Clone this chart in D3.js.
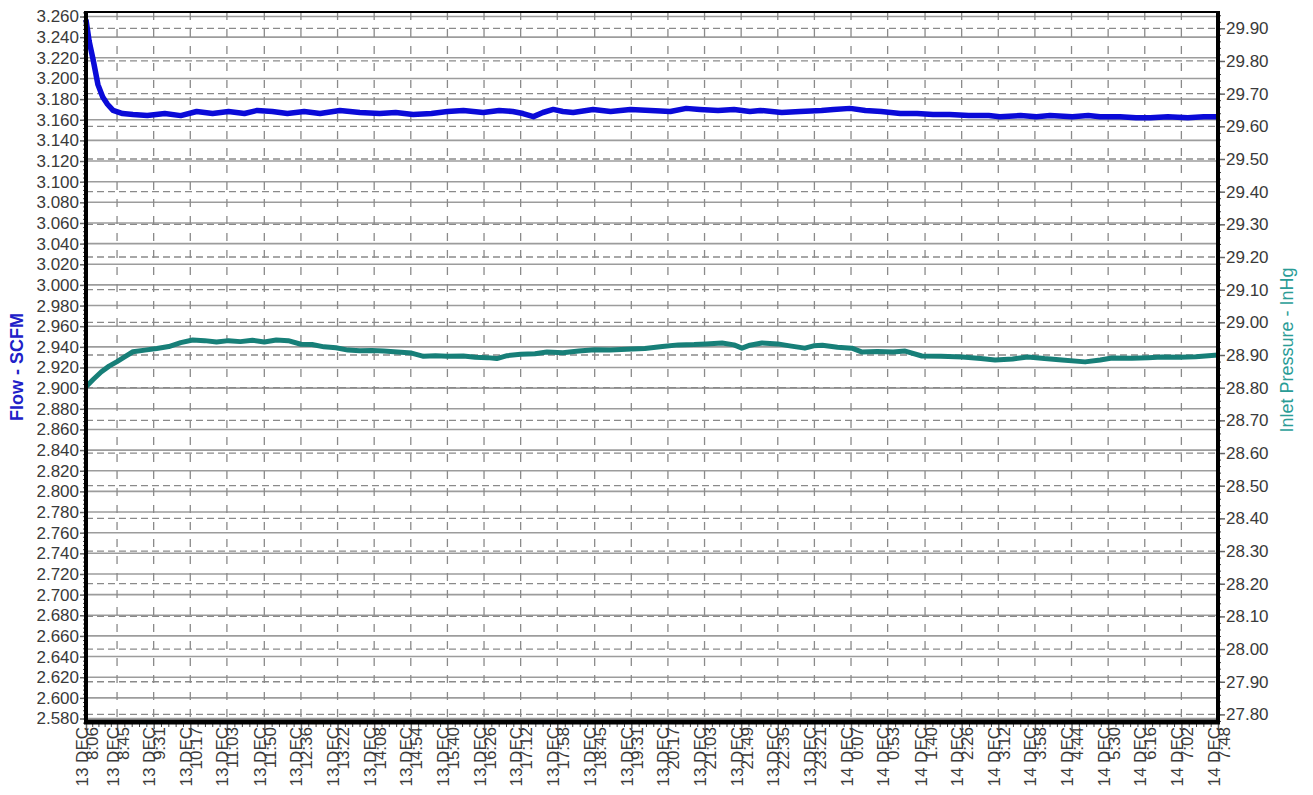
<!DOCTYPE html>
<html>
<head>
<meta charset="utf-8">
<script src="https://cdn.jsdelivr.net/npm/d3@7"></script>
<style>
  body { margin: 0; background: #fff; }
  text { font-family: Arial, "Liberation Sans", sans-serif; }
</style>
</head>
<body>
<div id="chart"></div>
<script>
// tick labels
const flowTicks = [2.58, 2.60, 2.62, 2.64, 2.66, 2.68, 2.70, 2.72, 2.74, 2.76, 2.78, 2.80, 2.82, 2.84,
  2.86, 2.88, 2.90, 2.92, 2.94, 2.96, 2.98, 3.00, 3.02, 3.04, 3.06, 3.08, 3.10, 3.12, 3.14, 3.16,
  3.18, 3.20, 3.22, 3.24, 3.26]
const pressureTicks = [27.8, 27.9, 28.0, 28.1, 28.2, 28.3, 28.4, 28.5, 28.6, 28.7, 28.8, 28.9,
  29.0, 29.1, 29.2, 29.3, 29.4, 29.5, 29.6, 29.7, 29.8, 29.9]
const timeLabels = ["13 DEC 8:06", "13 DEC 8:45", "13 DEC 9:31", "13 DEC 10:17", "13 DEC 11:03",
  "13 DEC 11:50", "13 DEC 12:36", "13 DEC 13:22", "13 DEC 14:08", "13 DEC 14:54", "13 DEC 15:40",
  "13 DEC 16:26", "13 DEC 17:12", "13 DEC 17:58", "13 DEC 18:45", "13 DEC 19:31", "13 DEC 20:17",
  "13 DEC 21:03", "13 DEC 21:49", "13 DEC 22:35", "13 DEC 23:21", "14 DEC 0:07", "14 DEC 0:53",
  "14 DEC 1:40", "14 DEC 2:26", "14 DEC 3:12", "14 DEC 3:58", "14 DEC 4:44", "14 DEC 5:30",
  "14 DEC 6:16", "14 DEC 7:02", "14 DEC 7:48"]

// flow series (SCFM, left axis)
const flowTimes = ["13 8:06", "13 8:10", "13 8:15", "13 8:21", "13 8:27", "13 8:33", "13 8:40", "13 8:52",
  "13 9:05", "13 9:23", "13 9:45", "13 10:05", "13 10:25", "13 10:45", "13 11:05", "13 11:25", "13 11:41",
  "13 12:00", "13 12:19", "13 12:40", "13 13:00", "13 13:25", "13 13:50", "13 14:15", "13 14:35",
  "13 14:57", "13 15:20", "13 15:40", "13 16:00", "13 16:25", "13 16:45", "13 17:02", "13 17:15",
  "13 17:28", "13 17:40", "13 17:53", "13 18:05", "13 18:18", "13 18:43", "13 19:05", "13 19:30",
  "13 19:55", "13 20:20", "13 20:40", "13 20:57", "13 21:20", "13 21:40", "13 22:00", "13 22:13",
  "13 22:40", "13 23:03", "13 23:30", "13 23:45", "14 0:06", "14 0:25", "14 0:45", "14 1:09",
  "14 1:30", "14 1:50", "14 2:11", "14 2:35", "14 3:00", "14 3:14", "14 3:40", "14 4:00", "14 4:17",
  "14 4:45", "14 5:05", "14 5:20", "14 5:45", "14 6:05", "14 6:23", "14 6:45", "14 7:10", "14 7:30",
  "14 7:48"]
const flowValues = [3.257, 3.236, 3.218, 3.194, 3.182, 3.175, 3.169, 3.166,
  3.165, 3.164, 3.166, 3.164, 3.168, 3.166, 3.168, 3.166, 3.169,
  3.168, 3.166, 3.168, 3.166, 3.169, 3.167, 3.166, 3.167,
  3.165, 3.166, 3.168, 3.169, 3.167, 3.169, 3.168, 3.166,
  3.163, 3.167, 3.170, 3.168, 3.167, 3.170, 3.168, 3.170,
  3.169, 3.168, 3.171, 3.170, 3.169, 3.170, 3.168, 3.169,
  3.167, 3.168, 3.169, 3.170, 3.171, 3.169, 3.168, 3.166,
  3.166, 3.165, 3.165, 3.164, 3.164, 3.163, 3.164, 3.163, 3.164,
  3.163, 3.164, 3.163, 3.163, 3.162, 3.162, 3.163, 3.162, 3.163,
  3.163]

// inlet pressure series (InHg, right axis)
const pressureTimes = ["13 8:06", "13 8:15", "13 8:25", "13 8:35", "13 8:45", "13 8:55", "13 9:05",
  "13 9:20", "13 9:35", "13 9:50", "13 10:05", "13 10:20", "13 10:35", "13 10:50", "13 11:05",
  "13 11:20", "13 11:35", "13 11:50", "13 12:05", "13 12:20", "13 12:36", "13 12:50", "13 13:05",
  "13 13:20", "13 13:35", "13 13:50", "13 14:05", "13 14:20", "13 14:37", "13 14:55", "13 15:10",
  "13 15:25", "13 15:40", "13 16:00", "13 16:15", "13 16:30", "13 16:42", "13 16:55", "13 17:12",
  "13 17:30", "13 17:45", "13 18:05", "13 18:25", "13 18:45", "13 19:05", "13 19:25", "13 19:48",
  "13 20:10", "13 20:30", "13 20:50", "13 21:05", "13 21:25", "13 21:40", "13 21:50", "13 22:00",
  "13 22:15", "13 22:35", "13 22:50", "13 23:09", "13 23:20", "13 23:31", "13 23:50", "14 0:08",
  "14 0:21", "14 0:40", "14 1:00", "14 1:15", "14 1:36", "14 2:00", "14 2:27", "14 2:50", "14 3:08",
  "14 3:30", "14 3:49", "14 4:10", "14 4:32", "14 5:01", "14 5:20", "14 5:35", "14 6:00", "14 6:20",
  "14 6:38", "14 7:00", "14 7:20", "14 7:48"]
const pressureValues = [28.803, 28.825, 28.848, 28.866, 28.880, 28.895, 28.910,
  28.915, 28.920, 28.926, 28.938, 28.946, 28.944, 28.940, 28.944,
  28.941, 28.945, 28.940, 28.946, 28.944, 28.933, 28.932, 28.925,
  28.922, 28.915, 28.913, 28.914, 28.912, 28.909, 28.906, 28.896,
  28.898, 28.896, 28.897, 28.893, 28.892, 28.889, 28.898, 28.902,
  28.904, 28.909, 28.907, 28.912, 28.916, 28.915, 28.918, 28.920,
  28.926, 28.931, 28.932, 28.934, 28.937, 28.931, 28.921, 28.930,
  28.937, 28.934, 28.928, 28.921, 28.928, 28.930, 28.924, 28.921,
  28.909, 28.911, 28.909, 28.912, 28.897, 28.896, 28.894, 28.889, 28.885,
  28.888, 28.894, 28.889, 28.885, 28.879, 28.885, 28.891, 28.890, 28.892,
  28.894, 28.893, 28.895, 28.900]

const width = 1313
const height = 795
const plotLeft = 86, plotRight = 1218, plotTop = 12, plotBottom = 722

const parseTime = d3.timeParse("%d %H:%M")
const labelTime = s => { const p = s.split(" "); return parseTime(p[0] + " " + p[2]) }

const x = d3.scaleTime()
  .domain([parseTime("13 8:06"), parseTime("14 7:48")])
  .range([plotLeft, plotRight])
const yFlow = d3.scaleLinear().domain([2.58, 3.26]).range([718.5, 16.5])
const yPress = d3.scaleLinear().domain([27.8, 29.9]).range([714.4, 28.3])

const svg = d3.select("#chart")
  .append("svg")
    .attr("width", width)
    .attr("height", height)

// grid
const grid = svg.append("g")
grid.selectAll(".hsolid")
  .data(flowTicks)
  .enter()
  .append("line")
    .attr("x1", plotLeft).attr("x2", plotRight)
    .attr("y1", d => yFlow(d)).attr("y2", d => yFlow(d))
    .attr("stroke", "#9c9c9c")
    .attr("stroke-width", 1.6)
grid.selectAll(".hdash")
  .data(pressureTicks)
  .enter()
  .append("line")
    .attr("x1", plotLeft).attr("x2", plotRight)
    .attr("y1", d => yPress(d)).attr("y2", d => yPress(d))
    .attr("stroke", "#8a8a8a")
    .attr("stroke-width", 1.3)
    .attr("stroke-dasharray", "7,4")
grid.selectAll(".vdash")
  .data(timeLabels)
  .enter()
  .append("line")
    .attr("x1", d => x(labelTime(d))).attr("x2", d => x(labelTime(d)))
    .attr("y1", plotTop).attr("y2", plotBottom)
    .attr("stroke", "#8a8a8a")
    .attr("stroke-width", 1.3)
    .attr("stroke-dasharray", "8,9")

// series
const flowData = flowTimes.map((t, i) => ({ t: parseTime(t), v: flowValues[i] }))
const pressData = pressureTimes.map((t, i) => ({ t: parseTime(t), v: pressureValues[i] }))

svg.append("path")
  .datum(pressData)
  .attr("fill", "none")
  .attr("stroke", "#177f78")
  .attr("stroke-width", 5)
  .attr("stroke-linejoin", "round")
  .attr("d", d3.line().x(d => x(d.t)).y(d => yPress(d.v)))

svg.append("path")
  .datum(flowData)
  .attr("fill", "none")
  .attr("stroke", "#0a0ad8")
  .attr("stroke-width", 5.5)
  .attr("stroke-linejoin", "round")
  .attr("d", d3.line().x(d => x(d.t)).y(d => yFlow(d.v)))

// top border
svg.append("line")
  .attr("x1", plotLeft).attr("x2", plotRight)
  .attr("y1", plotTop).attr("y2", plotTop)
  .attr("stroke", "#000").attr("stroke-width", 2)

// minor ticks
const minorFlow = d3.range(2.576, 3.2645, 0.004)
const minorPress = d3.range(27.78, 29.95, 0.02)
const tickTimes = timeLabels.map(labelTime)
const minorTimes = []
for (let i = 0; i < tickTimes.length - 1; i++) {
  const a = +tickTimes[i], b = +tickTimes[i + 1]
  for (let k = 1; k < 5; k++) minorTimes.push(new Date(a + (b - a) * k / 5))
}

svg.append("g")
  .attr("transform", "translate(" + plotLeft + ",0)")
  .call(d3.axisLeft(yFlow).tickValues(minorFlow).tickSize(3).tickFormat(""))
  .call(g => g.select(".domain").remove())
  .selectAll("line").attr("stroke", "#444")
svg.append("g")
  .attr("transform", "translate(" + plotRight + ",0)")
  .call(d3.axisRight(yPress).tickValues(minorPress).tickSize(3).tickFormat(""))
  .call(g => g.select(".domain").remove())
  .selectAll("line").attr("stroke", "#444")
svg.append("g")
  .attr("transform", "translate(0," + plotBottom + ")")
  .call(d3.axisBottom(x).tickValues(minorTimes).tickSize(5).tickFormat(""))
  .call(g => g.select(".domain").remove())
  .selectAll("line").attr("stroke", "#444")

// left axis
const leftAxis = svg.append("g")
  .attr("transform", "translate(" + plotLeft + ",0)")
  .call(d3.axisLeft(yFlow).tickValues(flowTicks).tickSize(6).tickSizeOuter(0).tickPadding(1)
    .tickFormat(d3.format(".3f")))
leftAxis.select(".domain").remove()
leftAxis.selectAll("line").attr("stroke", "#666").attr("stroke-width", 1.5)
leftAxis.selectAll("text").attr("font-size", 17).attr("fill", "#3a3a3a")
  .attr("font-family", "Arial, 'Liberation Sans', sans-serif")

// right axis
const rightAxis = svg.append("g")
  .attr("transform", "translate(" + plotRight + ",0)")
  .call(d3.axisRight(yPress).tickValues(pressureTicks).tickSize(7).tickSizeOuter(0).tickPadding(1)
    .tickFormat(d3.format(".2f")))
rightAxis.select(".domain").remove()
rightAxis.selectAll("line").attr("stroke", "#666").attr("stroke-width", 1.5)
rightAxis.selectAll("text").attr("font-size", 17).attr("fill", "#3a3a3a")
  .attr("font-family", "Arial, 'Liberation Sans', sans-serif")

// bottom axis
const bottomAxis = svg.append("g")
  .attr("transform", "translate(0," + plotBottom + ")")
  .call(d3.axisBottom(x).tickValues(tickTimes).tickSize(7).tickSizeOuter(0).tickFormat(""))
bottomAxis.select(".domain").remove()
bottomAxis.selectAll("line").attr("stroke", "#666").attr("stroke-width", 1.5)

const xLabels = svg.append("g").selectAll("text")
  .data(timeLabels)
  .enter()
  .append("text")
    .attr("transform", d => "translate(" + x(labelTime(d)) + ",727) rotate(-90)")
    .attr("text-anchor", "end")
    .attr("font-size", 17)
    .attr("fill", "#3a3a3a")
xLabels.append("tspan")
  .attr("x", 0).attr("y", 1.5)
  .text(d => d.split(" ").slice(0, 2).join(" "))
xLabels.append("tspan")
  .attr("x", 0).attr("y", 11.5)
  .text(d => d.split(" ")[2])

// thick axis lines
svg.append("line")
  .attr("x1", plotLeft).attr("x2", plotLeft)
  .attr("y1", plotTop - 1).attr("y2", plotBottom + 2)
  .attr("stroke", "#000").attr("stroke-width", 4)
svg.append("line")
  .attr("x1", plotRight).attr("x2", plotRight)
  .attr("y1", plotTop - 1).attr("y2", plotBottom + 2)
  .attr("stroke", "#000").attr("stroke-width", 4)
svg.append("line")
  .attr("x1", plotLeft - 2).attr("x2", plotRight + 2)
  .attr("y1", plotBottom).attr("y2", plotBottom)
  .attr("stroke", "#000").attr("stroke-width", 5)

// axis titles
svg.append("text")
  .attr("transform", "translate(23," + (plotTop + plotBottom) / 2 + ") rotate(-90)")
  .attr("text-anchor", "middle")
  .attr("font-size", 18)
  .attr("font-weight", "bold")
  .attr("fill", "#2020c8")
  .text("Flow - SCFM")
svg.append("text")
  .attr("transform", "translate(1293,350) rotate(-90)")
  .attr("text-anchor", "middle")
  .attr("font-size", 18)
  .attr("fill", "#2a9c96")
  .text("Inlet Pressure - InHg")
</script>
</body>
</html>
